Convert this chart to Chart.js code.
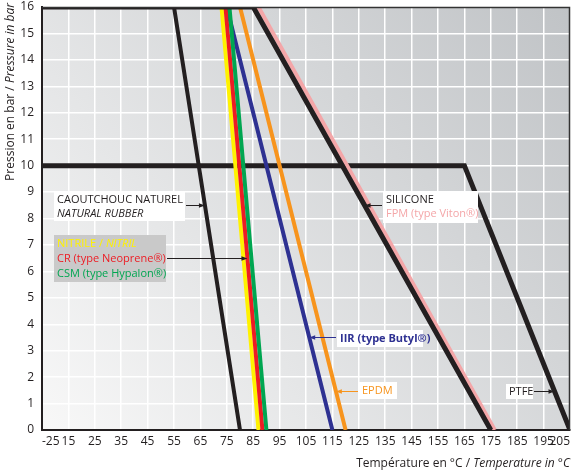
<!DOCTYPE html>
<html>
<head>
<meta charset="utf-8">
<script src="https://cdn.jsdelivr.net/npm/chart.js@4/dist/chart.umd.min.js"></script>
<style>
  html, body { margin: 0; padding: 0; background: #fff; }
  #wrap { width: 571px; height: 475px; }
</style>
</head>
<body>
<div id="wrap"><canvas id="chart"></canvas></div>
<script>
// materials, pressure plateau, temperature where the drop starts, temperature at 0 bar
const materials   = ['CAOUTCHOUC NATUREL', 'NITRILE', 'CR', 'CSM', 'IIR', 'EPDM', 'SILICONE', 'FPM', 'PTFE'];
const maxPressure = [16, 16, 16, 16, 16, 16, 16, 16, 10];
const kneeTemp    = [55, 73, 74.5, 76, 75, 80, 85, 87, 165];
const zeroTemp    = [80, 87, 88.5, 90, 115, 120, 175, 176.5, 205];
const startTemp   = 5;

const lineColors = ['#231f20', '#fff200', '#ed1c24', '#00a651', '#2e3192', '#f7941d', '#231f20', '#f4a6a8', '#231f20'];
const drawOrder  = [2, 5, 4, 3, 6, 7, 0, 1, 8];   // lower = on top
const lineWidths = [4, 4, 4, 4, 4, 4, 5, 4, 5];

const xTickLabels = ['-25', '15', '25', '35', '45', '55', '65', '75', '85', '95', '105',
                     '115', '125', '135', '145', '155', '165', '175', '185', '195', '205'];

const FONT = '"Open Sans", "Noto Sans", sans-serif';
const INK = '#231f20';

const datasets = materials.map((m, i) => ({
  label: m,
  data: [
    { x: startTemp, y: maxPressure[i] },
    { x: kneeTemp[i], y: maxPressure[i] },
    { x: zeroTemp[i], y: 0 }
  ],
  borderColor: lineColors[i],
  borderWidth: lineWidths[i],
  pointRadius: 0,
  tension: 0,
  fill: false,
  order: drawOrder[i],
  borderJoinStyle: 'miter'
}));

// labels next to the curves (x/y in data units = top-left corner of the box)
const notes = [
  { x: 9.5, y: 9.05, w: 131, h: 30, fill: '#ffffff', top: 9, gap: 13.5, series: 0, at: 8.5, side: 'right',
    lines: [[{ t: 'CAOUTCHOUC NATUREL', c: INK }], [{ t: 'NATURAL RUBBER', c: INK, i: true }]] },
  { x: 9.5, y: 7.37, w: 112, h: 47, fill: '#c9c9c9', top: 8.5, gap: 15, series: 2, at: 6.5, side: 'right',
    lines: [[{ t: 'NITRILE / ', c: '#fff200' }, { t: 'NITRIL', c: '#fff200', i: true }],
            [{ t: 'CR (type Neoprene®)', c: '#ed1c24' }],
            [{ t: 'CSM (type Hypalon®)', c: '#00a651' }]] },
  { x: 134.2, y: 9.05, w: 95, h: 32, fill: '#ffffff', top: 9, gap: 13.5, series: 6, at: 8.5, side: 'left',
    lines: [[{ t: 'SILICONE', c: INK }], [{ t: 'FPM (type Viton®)', c: '#f4a6a8' }]] },
  { x: 116.7, y: 3.78, w: 86, h: 17, fill: '#ffffff', top: 8.5, gap: 14, series: 4, at: 3.52, side: 'left',
    lines: [[{ t: 'IIR (type Butyl®)', c: '#2e3192', b: true }]] },
  { x: 125.1, y: 1.82, w: 38, h: 17, fill: '#ffffff', top: 8.5, gap: 14, series: 5, at: 1.47, side: 'left',
    lines: [[{ t: 'EPDM', c: '#f7941d' }]] },
  { x: 180.8, y: 1.74, w: 27, h: 15, fill: '#ffffff', top: 7.5, gap: 14, series: 8, at: 1.47, side: 'right',
    lines: [[{ t: 'PTFE', c: INK }]] }
];

function drawParts(ctx, parts, x, y, size) {
  parts.forEach(p => {
    ctx.font = (p.i ? 'italic ' : '') + (p.b ? 'bold ' : '') + size + 'px ' + FONT;
    ctx.fillStyle = p.c || INK;
    ctx.fillText(p.t, x, y);
    x += ctx.measureText(p.t).width;
  });
  return x;
}
function partsWidth(ctx, parts, size) {
  let w = 0;
  parts.forEach(p => {
    ctx.font = (p.i ? 'italic ' : '') + (p.b ? 'bold ' : '') + size + 'px ' + FONT;
    w += ctx.measureText(p.t).width;
  });
  return w;
}

const decor = {
  id: 'decor',
  beforeDraw(chart) {
    const { ctx, chartArea: a } = chart;
    const g = ctx.createLinearGradient(a.left, a.bottom, a.right, a.top);
    g.addColorStop(0, '#f8f8f8');
    g.addColorStop(1, '#c0c3c6');
    ctx.save();
    ctx.fillStyle = g;
    ctx.fillRect(a.left, a.top, a.width, a.height);
    ctx.restore();
  },
  afterDatasetsDraw(chart) {
    const { ctx, chartArea: a, scales } = chart;
    const xs = scales.x, ys = scales.y;
    ctx.save();
    // top / right frame
    ctx.strokeStyle = '#333';
    ctx.lineWidth = 1.5;
    ctx.beginPath();
    ctx.moveTo(a.left, a.top + 0.5);
    ctx.lineTo(a.right - 0.5, a.top + 0.5);
    ctx.lineTo(a.right - 0.5, a.bottom);
    ctx.stroke();

    ctx.textBaseline = 'middle';
    ctx.textAlign = 'left';
    notes.forEach(n => {
      const left = Math.round(xs.getPixelForValue(n.x));
      const top = Math.round(ys.getPixelForValue(n.y));
      ctx.fillStyle = n.fill;
      ctx.fillRect(left, top, n.w, n.h);
      n.lines.forEach((ln, k) => drawParts(ctx, ln, left + 3, top + n.top + k * n.gap, 11));

      const s = n.series;
      const t = kneeTemp[s] + (maxPressure[s] - n.at) / maxPressure[s] * (zeroTemp[s] - kneeTemp[s]);
      const tip = xs.getPixelForValue(t);
      const y = Math.round(ys.getPixelForValue(n.at)) + 0.5;
      const from = n.side === 'right' ? left + n.w + 1 : left - 1;
      const dir = tip > from ? 1 : -1;
      ctx.strokeStyle = lineColors[s] === '#fff200' ? INK : (s === 2 ? INK : lineColors[s]);
      ctx.fillStyle = ctx.strokeStyle;
      ctx.lineWidth = 1;
      ctx.beginPath();
      ctx.moveTo(from, y);
      ctx.lineTo(tip - dir * 4, y);
      ctx.stroke();
      ctx.beginPath();
      ctx.moveTo(tip, y);
      ctx.lineTo(tip - dir * 6, y - 2.2);
      ctx.lineTo(tip - dir * 6, y + 2.2);
      ctx.closePath();
      ctx.fill();
    });
    ctx.restore();
  },
  afterDraw(chart) {
    const { ctx } = chart;
    ctx.save();
    ctx.textBaseline = 'middle';
    ctx.textAlign = 'left';
    // x title, right aligned
    const xt = [{ t: 'Température en °C / ', c: INK }, { t: 'Temperature in °C', c: INK, i: true }];
    const xw = partsWidth(ctx, xt, 12);
    drawParts(ctx, xt, 570 - xw, 464, 12);
    // y title, rotated, ending at the top
    const yt = [{ t: 'Pression en bar / ', c: INK }, { t: 'Pressure in bar', c: INK, i: true }];
    const yw = partsWidth(ctx, yt, 12);
    ctx.translate(11, 3);
    ctx.rotate(-Math.PI / 2);
    drawParts(ctx, yt, -yw, 0, 12);
    ctx.restore();
  }
};

new Chart(document.getElementById('chart'), {
  type: 'line',
  data: { datasets: datasets },
  options: {
    responsive: true,
    maintainAspectRatio: false,
    animation: false,
    events: [],
    layout: { padding: { top: 7, right: 1, left: 0, bottom: 0 } },
    plugins: { legend: { display: false }, tooltip: { enabled: false } },
    scales: {
      x: {
        type: 'linear',
        min: 5,
        max: 205,
        grid: { color: '#ffffff', lineWidth: 1.5, drawTicks: false },
        border: { color: INK, width: 2 },
        ticks: {
          stepSize: 10,
          align: 'inner',
          padding: 4,
          maxRotation: 0,
          autoSkip: false,
          color: INK,
          font: { family: FONT, size: 12 },
          callback: (v, i) => xTickLabels[i]
        },
        afterFit: s => { s.height = 45; s.paddingLeft = 0; s.paddingRight = 0; }
      },
      y: {
        min: 0,
        max: 16,
        grid: { color: '#ffffff', lineWidth: 1.5, drawTicks: false },
        border: { color: INK, width: 2 },
        ticks: {
          stepSize: 1,
          padding: 8,
          color: INK,
          font: { family: FONT, size: 12 }
        },
        afterFit: s => { s.width = 42; s.paddingTop = 0; s.paddingBottom = 0; }
      }
    }
  },
  plugins: [decor]
});
</script>
</body>
</html>
